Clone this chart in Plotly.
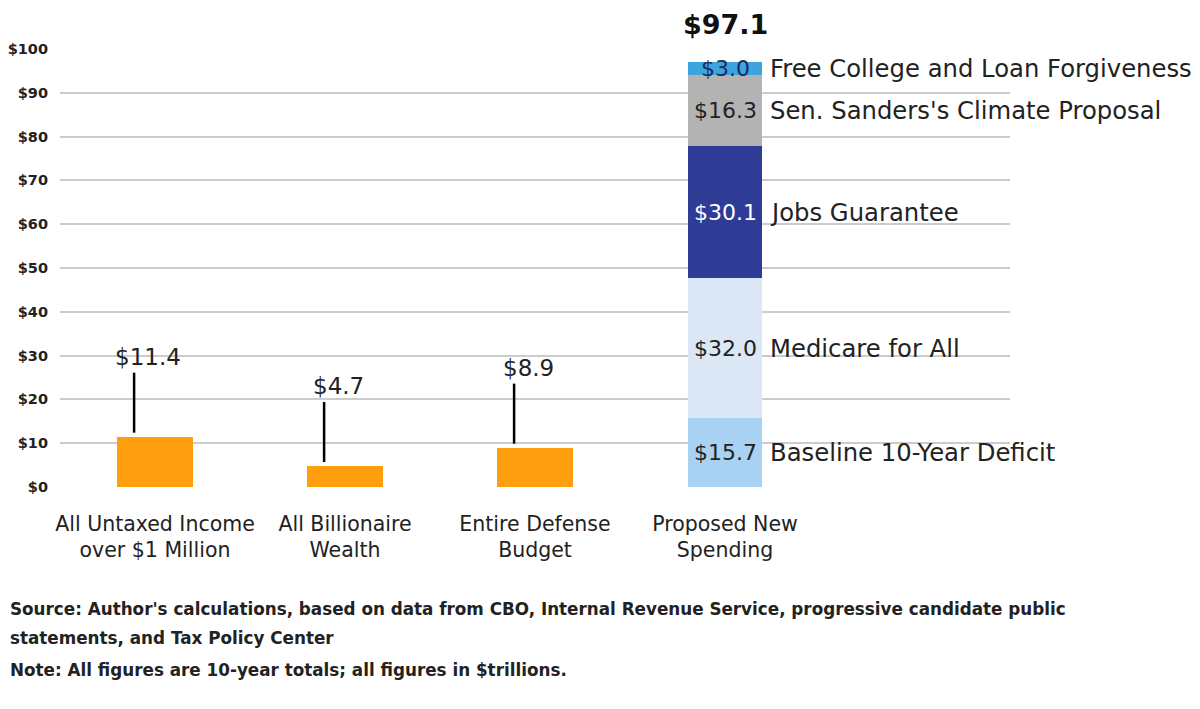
import plotly.graph_objects as go

# values in $ trillions, 10-year totals
categories = ['All Untaxed Income<br>over $1 Million', 'All Billionaire<br>Wealth',
              'Entire Defense<br>Budget', 'Proposed New<br>Spending']
revenue_values = [11.4, 4.7, 8.9]

spending_names = ['Baseline 10-Year Deficit', 'Medicare for All', 'Jobs Guarantee',
                  "Sen. Sanders's Climate Proposal", 'Free College and Loan Forgiveness']
spending_values = [15.7, 32.0, 30.1, 16.3, 3.0]
spending_colors = ['#a9d2f2', '#dce7f5', '#2e3c96', '#b3b3b3', '#3ca5e0']
spending_text_colors = ['#222222', '#222222', '#ffffff', '#222222', '#1b2c5c']

y_ticks = list(range(0, 101, 10))
y_tick_labels = ['$%d' % v for v in y_ticks]

FONT = 'DejaVu Sans'
DARK = '#222222'

# the page body has an 8px margin, so the figure is a bit smaller than the window
W, H = 1192, 701
ML, MT, MB = 52, 41, 222

fig = go.Figure()

fig.add_trace(go.Bar(x=categories[:3], y=revenue_values, width=0.4,
                     marker=dict(color='#ff9f10', line_width=0),
                     showlegend=False, hoverinfo='skip'))

for name, val, col in zip(spending_names, spending_values, spending_colors):
    fig.add_trace(go.Bar(x=[categories[3]], y=[val], width=0.39, name=name,
                         marker=dict(color=col, line_width=0),
                         showlegend=False, hoverinfo='skip'))

annotations = []
shapes = []

# labels with leader lines over the orange bars
for i, v in enumerate(revenue_values):
    shapes.append(dict(type='line', xref='x', yref='y',
                       x0=i - 0.11, x1=i - 0.11, y0=v + 1.0, y1=v + 14.7,
                       line=dict(color='black', width=2.5)))
    annotations.append(dict(x=i - 0.035, y=v + 14.7, xref='x', yref='y',
                            text='$%.1f' % v, showarrow=False,
                            xanchor='center', yanchor='bottom', yshift=1,
                            font=dict(family=FONT, size=23, color=DARK)))

# stacked bar segment labels
base = 0
for name, val, tcol in zip(spending_names, spending_values, spending_text_colors):
    mid = base + val / 2
    annotations.append(dict(x=3, y=mid, xref='x', yref='y', text='$%.1f' % val,
                            showarrow=False, xanchor='center', yanchor='middle',
                            font=dict(family=FONT, size=22, color=tcol)))
    annotations.append(dict(x=3, y=mid, xref='x', yref='y', text=name,
                            showarrow=False, xanchor='left', yanchor='middle',
                            xshift=43,
                            font=dict(family=FONT, size=24.3, color=DARK)))
    base += val

annotations.append(dict(x=3, y=base, xref='x', yref='y', text='<b>$%.1f</b>' % base,
                        showarrow=False, xanchor='center', yanchor='bottom', yshift=20,
                        font=dict(family=FONT, size=27, color='#111111')))

notes = ["Source: Author's calculations, based on data from CBO, Internal Revenue Service, progressive candidate public",
         'statements, and Tax Policy Center',
         'Note: All figures are 10-year totals; all figures in $trillions.']
note_y = [609, 638, 670]
plot_bottom = H - MB
for line, yy in zip(notes, note_y):
    annotations.append(dict(x=0, y=0, xref='paper', yref='paper',
                            xshift=-ML, yshift=-(yy - 8 - plot_bottom),
                            text='<b>' + line + '</b>', showarrow=False,
                            xanchor='left', yanchor='middle',
                            font=dict(family=FONT, size=16.8, color=DARK)))

fig.update_layout(
    width=W, height=H,
    margin=dict(l=ML, r=W - ML - 950, t=MT, b=MB, autoexpand=False),
    paper_bgcolor='white', plot_bgcolor='white',
    barmode='stack', bargap=0,
    font=dict(family=FONT, color=DARK),
    xaxis=dict(type='category', range=[-0.5, 4.5], showgrid=False, zeroline=False,
               showline=False, ticks='', ticklabelstandoff=22,
               tickfont=dict(family=FONT, size=20.5, color=DARK)),
    yaxis=dict(range=[0, 100], tickvals=y_ticks, ticktext=y_tick_labels,
               showgrid=True, gridcolor='#cccccc', gridwidth=2, zeroline=False,
               showline=False, ticks='', ticklabelstandoff=11,
               tickfont=dict(family=FONT, size=14.5, color=DARK, weight='bold')),
    annotations=annotations,
    shapes=shapes,
)

fig.write_html('out.html')
